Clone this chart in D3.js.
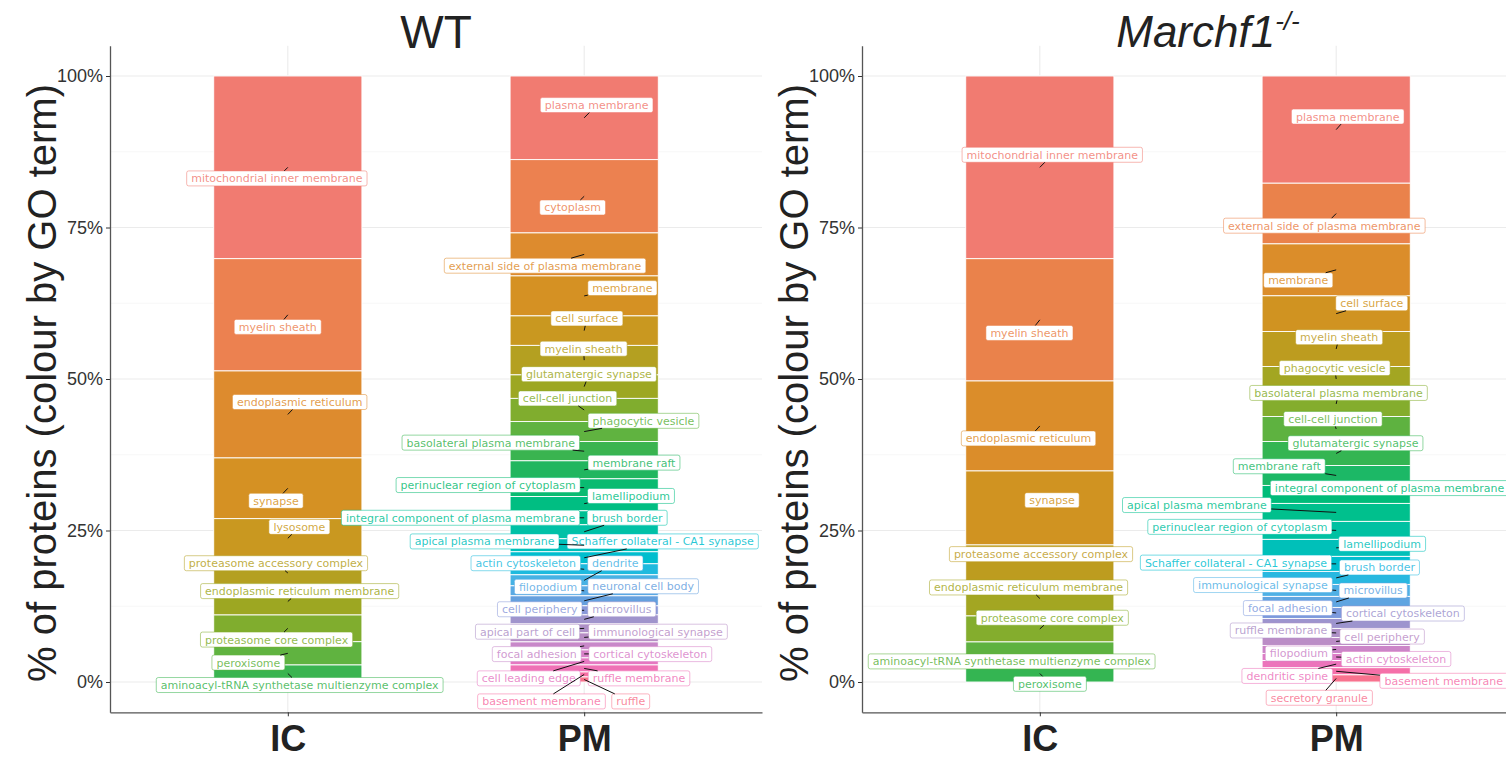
<!DOCTYPE html>
<html>
<head>
<meta charset="UTF-8">
<title>% of proteins by GO term: WT vs Marchf1-/-</title>
<style>
  body { margin: 0; background: #fff; }
  svg { display: block; }
</style>
</head>
<body>
<svg></svg>
<script src="https://d3js.org/d3.v7.min.js"></script>
<script>

/* DATA (percent of proteins per GO term, top of stack first) */

var categories = ["IC", "PM"];

var wtIcTerms = ["mitochondrial inner membrane", "myelin sheath", "endoplasmic reticulum", "synapse", "lysosome",
  "proteasome accessory complex", "endoplasmic reticulum membrane", "proteasome core complex", "peroxisome",
  "aminoacyl-tRNA synthetase multienzyme complex"];
var wtIcValues = [30.15, 18.53, 14.36, 10.02, 6.49, 4.95, 4.46, 4.41, 3.84, 2.81];

var wtPmTerms = ["plasma membrane", "cytoplasm", "external side of plasma membrane", "membrane", "cell surface",
  "myelin sheath", "glutamatergic synapse", "cell-cell junction", "phagocytic vesicle", "basolateral plasma membrane",
  "membrane raft", "perinuclear region of cytoplasm", "lamellipodium", "integral component of plasma membrane",
  "brush border", "apical plasma membrane", "Schaffer collateral - CA1 synapse", "actin cytoskeleton", "dendrite",
  "filopodium", "neuronal cell body", "cell periphery", "microvillus", "apical part of cell", "immunological synapse",
  "focal adhesion", "cortical cytoskeleton", "cell leading edge", "ruffle membrane", "basement membrane", "ruffle"];
var wtPmValues = [13.81, 12.10, 7.10, 6.60, 4.87, 4.87, 3.88, 3.83, 3.30, 3.18, 2.97, 2.92, 2.36, 2.31, 2.31,
  2.15, 1.98, 1.82, 1.82, 1.65, 1.65, 1.49, 1.49, 1.49, 1.49, 1.32, 1.32, 1.16, 1.16, 0.83, 0.83];

var koIcTerms = ["mitochondrial inner membrane", "myelin sheath", "endoplasmic reticulum", "synapse",
  "proteasome accessory complex", "endoplasmic reticulum membrane", "proteasome core complex",
  "aminoacyl-tRNA synthetase multienzyme complex", "peroxisome"];
var koIcValues = [30.15, 20.18, 14.85, 12.21, 5.94, 5.78, 4.29, 3.80, 2.81];

var koPmTerms = ["plasma membrane", "external side of plasma membrane", "membrane", "cell surface", "myelin sheath",
  "phagocytic vesicle", "basolateral plasma membrane", "cell-cell junction", "glutamatergic synapse", "membrane raft",
  "integral component of plasma membrane", "apical plasma membrane", "perinuclear region of cytoplasm",
  "lamellipodium", "Schaffer collateral - CA1 synapse", "brush border", "immunological synapse", "microvillus",
  "focal adhesion", "cortical cytoskeleton", "ruffle membrane", "cell periphery", "filopodium", "actin cytoskeleton",
  "dendritic spine", "basement membrane", "secretory granule"];
var koPmValues = [17.71, 10.02, 8.58, 5.89, 5.78, 4.13, 4.13, 4.13, 3.96, 3.30, 2.97, 2.97, 2.97, 2.81, 2.48,
  2.15, 1.98, 1.82, 1.82, 1.65, 1.49, 1.32, 1.32, 1.18, 1.18, 1.18, 1.18];

/* REPELLED LABEL PLACEMENT (x shift in category units, y in percent) */
var wtIcLabelDx = [-0.037, -0.034, 0.040, -0.040, 0.039, -0.040, 0.040, -0.038, -0.133, 0.040];
var wtIcLabelY = [83.1, 58.6, 46.2, 29.9, 25.6, 19.6, 15.0, 7.0, 3.2, -0.5];

var wtPmLabelDx = [0.042, -0.039, -0.132, 0.129, 0.009, -0.002, 0.016, -0.056, 0.200, -0.315, 0.168, -0.324,
  0.158, -0.417, 0.145, -0.336, 0.265, -0.197, 0.105, -0.122, 0.199, -0.150, 0.127, -0.191, 0.249, -0.160,
  0.223, -0.187, 0.185, -0.144, 0.157];
var wtPmLabelY = [95.2, 78.3, 68.7, 65.0, 60.0, 55.0, 50.8, 46.8, 43.1, 39.5, 36.2, 32.5, 30.7, 27.1, 27.1,
  23.2, 23.2, 19.6, 19.6, 15.7, 15.8, 12.0, 12.0, 8.3, 8.3, 4.6, 4.6, 0.6, 0.6, -3.2, -3.2];

var koIcLabelDx = [0.042, -0.035, -0.038, 0.041, 0.004, -0.038, 0.042, -0.095, 0.034];
var koIcLabelY = [87.0, 57.6, 40.2, 30.0, 21.1, 15.6, 10.6, 3.4, -0.3];

var koPmLabelDx = [0.039, -0.040, -0.128, 0.120, 0.010, -0.005, 0.008, -0.011, 0.065, -0.192, 0.180, -0.470,
  -0.325, 0.155, -0.338, 0.146, -0.247, 0.125, -0.163, 0.225, -0.186, 0.155, -0.126, 0.202, -0.165, 0.363, -0.057];
var koPmLabelY = [93.3, 75.3, 66.3, 62.5, 56.9, 51.8, 47.7, 43.4, 39.4, 35.6, 32.0, 29.2, 25.6, 22.8, 19.7,
  18.9, 16.0, 15.1, 12.2, 11.3, 8.5, 7.5, 4.7, 3.8, 1.0, 0.2, -2.6];

var yTicks = [0, 0.25, 0.5, 0.75, 1];

// the printed figure is muted in blue / purple / magenta and greener in yellow-green:
// max Lab chroma and Lab hue shift, both by Lab hue
var chromaCapHue = [0, 30, 50, 70, 90, 130, 160, 200, 240, 270, 300, 315, 331, 342, 360];
var chromaCapMax = [57, 53, 60, 67, 62, 65, 55, 45, 40, 38, 30, 31, 47, 55, 57];
var hueShiftHue = [0, 80, 126, 150, 180, 360];
var hueShiftDeg = [0, 0, 14, 8, 0, 0];

/* HELPERS */

// R's hcl() (polar LUV) -> sRGB, so the hue palette matches ggplot's
function hclR(h, c, l) {
  var Xn = 95.047, Yn = 100, Zn = 108.883;
  var hr = h * Math.PI / 180;
  var U = c * Math.cos(hr), V = c * Math.sin(hr);
  var Y = Yn * (l > 7.999592 ? Math.pow((l + 16) / 116, 3) : l / 903.3);
  var t = Xn + Yn + Zn, x = Xn / t, y = Yn / t;
  var uN = 2 * x / (6 * y - x + 1.5), vN = 4.5 * y / (6 * y - x + 1.5);
  var u = U / (13 * l) + uN, v = V / (13 * l) + vN;
  var X = 9 * Y * u / (4 * v), Z = -X / 3 - 5 * Y + 3 * Y / v;
  var g = function(a) { return a > 0.00304 ? 1.055 * Math.pow(a, 1 / 2.4) - 0.055 : 12.92 * a; };
  var cl = function(a) { return Math.round(255 * Math.max(0, Math.min(1, a))); };
  var r = g((3.240479 * X - 1.537150 * Y - 0.498535 * Z) / Yn);
  var gg = g((-0.969256 * X + 1.875992 * Y + 0.041556 * Z) / Yn);
  var b = g((0.055648 * X - 0.204043 * Y + 1.057311 * Z) / Yn);
  return d3.rgb(cl(r), cl(gg), cl(b)).formatHex();
}

var capScale = d3.scaleLinear().domain(chromaCapHue).range(chromaCapMax);
var shiftScale = d3.scaleLinear().domain(hueShiftHue).range(hueShiftDeg);
function muted(hex) {
  var c = d3.hcl(hex);
  var h0 = c.h;
  c.c = Math.min(c.c, capScale(h0));
  c.h = h0 + shiftScale(h0);
  return c.formatHex();
}

function huePal(n) {
  return d3.range(n).map(function(i) { return muted(hclR(15 + i * 360 / n, 100, 65)); });
}

function bar(cat, terms, values, labelDx, labelY) {
  var total = d3.sum(values), cum = 0;
  return terms.map(function(term, i) {
    var top = 1 - cum / total;
    cum += values[i];
    return { cat: cat, term: term, rank: i, top: top, bottom: 1 - cum / total,
             ldx: labelDx[i], ly: labelY[i] / 100 };
  });
}

var config = {
  width: 1506, height: 761,
  panelTop: 45.7, panelBottom: 712.3, panelWidth: 652,
  barWidth: 0.5,
  labelFont: 11, labelPadX: 4.5, labelH: 15
};

var panels = [
  { title: "WT", left: 110, titleShift: 0,
    bars: [bar("IC", wtIcTerms, wtIcValues, wtIcLabelDx, wtIcLabelY),
           bar("PM", wtPmTerms, wtPmValues, wtPmLabelDx, wtPmLabelY)] },
  { title: "Marchf1", sup: "-/-", left: 862, titleShift: 20,
    bars: [bar("IC", koIcTerms, koIcValues, koIcLabelDx, koIcLabelY),
           bar("PM", koPmTerms, koPmValues, koPmLabelDx, koPmLabelY)] }
];

var svg = d3.select("svg")
  .attr("width", config.width)
  .attr("height", config.height)
  .style("font-family", "'Liberation Sans', Arial, sans-serif");

panels.forEach(function(p) {
  var g = svg.append("g");
  var x = d3.scalePoint().domain(categories)
      .range([p.left, p.left + config.panelWidth]).padding(0.6);
  var step = x.step();
  var y = d3.scaleLinear().domain([-0.05, 1.05]).range([config.panelBottom, config.panelTop]);
  var nColours = d3.max(p.bars, function(b) { return b.length; });
  var colours = huePal(nColours);

  // grid
  var grid = g.append("g");
  grid.selectAll("line.minor").data([0.125, 0.375, 0.625, 0.875]).enter().append("line")
    .attr("x1", p.left).attr("x2", p.left + config.panelWidth)
    .attr("y1", function(d) { return y(d); }).attr("y2", function(d) { return y(d); })
    .attr("stroke", "#f2f2f2").attr("stroke-width", 0.6);
  grid.selectAll("line.major").data(yTicks).enter().append("line")
    .attr("x1", p.left).attr("x2", p.left + config.panelWidth)
    .attr("y1", function(d) { return y(d); }).attr("y2", function(d) { return y(d); })
    .attr("stroke", "#ebebeb").attr("stroke-width", 1.1);
  grid.selectAll("line.vert").data(categories).enter().append("line")
    .attr("x1", function(d) { return x(d); }).attr("x2", function(d) { return x(d); })
    .attr("y1", config.panelTop).attr("y2", config.panelBottom)
    .attr("stroke", "#ebebeb").attr("stroke-width", 1.1);

  // stacked bars
  p.bars.forEach(function(b) {
    g.append("g").selectAll("rect").data(b).enter().append("rect")
      .attr("x", function(d) { return x(d.cat) - step * config.barWidth / 2; })
      .attr("width", step * config.barWidth)
      .attr("y", function(d) { return y(d.top); })
      .attr("height", function(d) { return y(d.bottom) - y(d.top); })
      .attr("fill", function(d) { return colours[d.rank]; })
      .attr("stroke", "#fff").attr("stroke-width", 0.9);
  });

  // axes
  var yAxis = g.append("g")
    .attr("transform", "translate(" + p.left + ",0)")
    .call(d3.axisLeft(y).tickValues(yTicks).tickFormat(d3.format(".0%")).tickSize(4).tickSizeOuter(0).tickPadding(3));
  yAxis.selectAll("text").style("font-size", "18px").attr("fill", "#333");
  yAxis.selectAll("line").attr("stroke", "#333");
  yAxis.select(".domain").attr("stroke", "#555").attr("stroke-width", 1.3);

  var xAxis = g.append("g")
    .attr("transform", "translate(0," + config.panelBottom + ")")
    .call(d3.axisBottom(x).tickSize(4).tickSizeOuter(0).tickPadding(9));
  xAxis.selectAll("text").style("font-size", "36px").style("font-weight", "bold").attr("fill", "#222");
  xAxis.selectAll("line").attr("stroke", "#333");
  xAxis.select(".domain").attr("stroke", "#555").attr("stroke-width", 1.3);

  // y axis title
  var midY = (config.panelTop + config.panelBottom) / 2 + 4;
  g.append("text")
    .attr("transform", "translate(" + (p.left - 54) + "," + midY + ") rotate(-90)")
    .attr("text-anchor", "middle")
    .style("font-size", "40px")
    .attr("fill", "#222")
    .text("% of proteins (colour by GO term)");

  // panel title
  var title = g.append("text")
    .attr("x", p.left + config.panelWidth / 2 + p.titleShift)
    .attr("text-anchor", "middle")
    .attr("fill", "#222");
  if (p.sup) {
    title.attr("y", 47).style("font-size", "44px");
    title.append("tspan").style("font-style", "italic").text(p.title);
    title.append("tspan").attr("dy", -17).style("font-size", "26px").style("font-style", "italic").text(p.sup);
  } else {
    title.attr("y", 48).style("font-size", "46px").text(p.title);
  }

  // repelled labels with leader segments
  var labels = g.append("g").style("font-family", "'DejaVu Sans', sans-serif");
  var segs = [];
  p.bars.forEach(function(b) {
    b.forEach(function(d) {
      var lx = x(d.cat) + d.ldx * step, ly = y(d.ly);
      var col = colours[d.rank];
      var lg = labels.append("g");
      var rect = lg.append("rect");
      var txt = lg.append("text")
        .attr("x", lx).attr("y", ly).attr("dy", "0.36em")
        .attr("text-anchor", "middle")
        .style("font-size", config.labelFont + "px")
        .attr("fill", col).attr("fill-opacity", 0.85)
        .text(d.term);
      var w = txt.node().getComputedTextLength() + 2 * config.labelPadX;
      var h = config.labelH;
      rect.attr("x", lx - w / 2).attr("y", ly - h / 2).attr("width", w).attr("height", h)
        .attr("rx", 2).attr("fill", "#fff")
        .attr("stroke", col).attr("stroke-opacity", 0.6).attr("stroke-width", 0.9);

      // segment from the data point to the label box edge
      var px = x(d.cat), py = y((d.top + d.bottom) / 2);
      var vx = px - lx, vy = py - ly;
      if (Math.abs(vx) > w / 2 || Math.abs(vy) > h / 2) {
        var tt = Math.min(Math.abs(vx) > 0 ? (w / 2) / Math.abs(vx) : Infinity,
                          Math.abs(vy) > 0 ? (h / 2) / Math.abs(vy) : Infinity);
        var ex = lx + vx * tt, ey = ly + vy * tt;
        if (Math.hypot(px - ex, py - ey) > 2) segs.push([ex, ey, px, py]);
      }
    });
  });
  g.append("g").selectAll("line").data(segs).enter().append("line")
    .attr("x1", function(d) { return d[0]; }).attr("y1", function(d) { return d[1]; })
    .attr("x2", function(d) { return d[2]; }).attr("y2", function(d) { return d[3]; })
    .attr("stroke", "#111").attr("stroke-width", 1);
});

</script>
</body>
</html>
